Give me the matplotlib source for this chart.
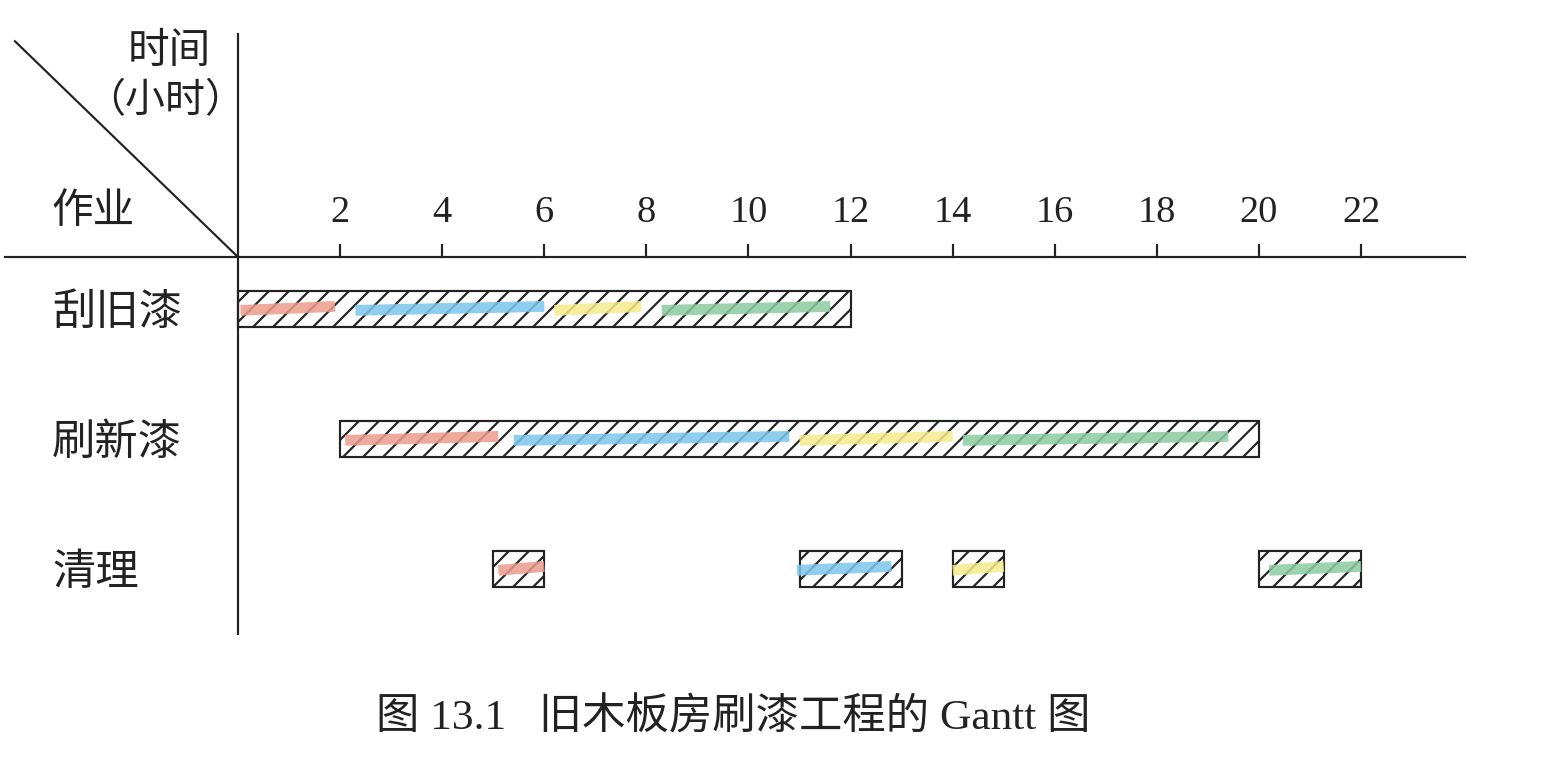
import matplotlib.pyplot as plt

plt.rcParams['font.family'] = ['Noto Sans CJK SC', 'DejaVu Sans']
plt.rcParams['hatch.linewidth'] = 1.3

# 作业与时间 (小时)
tasks = ['刮旧漆', '刷新漆', '清理']
bars_start = [[0], [2], [5, 11, 14, 20]]
bars_end = [[12], [20], [6, 13, 15, 22]]

# 各房间的彩色笔迹 (起点, 终点)
stroke_colors = ['#eb9c8c', '#7cc6ec', '#f6ec8c', '#8ccaa0']
strokes_start = [[0.05, 2.3, 6.2, 8.3], [2.1, 5.4, 11.0, 14.2], [5.1, 10.95, 14.0, 20.2]]
strokes_end = [[1.9, 6.0, 7.9, 11.6], [5.1, 10.8, 14.0, 19.4], [6.0, 12.8, 15.0, 22.0]]

ticks = [2, 4, 6, 8, 10, 12, 14, 16, 18, 20, 22]

fig = plt.figure(figsize=(12.908, 6.458), dpi=120)
ax = fig.add_axes([0, 0, 1, 1])
ax.set_xlim(-4.662, 25.68)
ax.set_ylim(3.577, -2.385)
ax.axis('off')

bar_h = 0.28
for i, task in enumerate(tasks):
    for s, e in zip(bars_start[i], bars_end[i]):
        ax.barh(i, e - s, left=s, height=bar_h, color='white',
                edgecolor='#222222', hatch='//', linewidth=1.3)
    for j, (s, e) in enumerate(zip(strokes_start[i], strokes_end[i])):
        ax.plot([s, e], [i + 0.01, i - 0.02], color=stroke_colors[j],
                lw=6.5, alpha=0.85, solid_capstyle='butt')
    ax.text(-3.64, i + 0.02, task, fontsize=26, va='center', ha='left', color='#222222')

# 坐标轴
ax.plot([-4.564, 24.03], [-0.4, -0.4], color='#222222', lw=1.3)
ax.plot([0, 0], [-2.115, 2.5], color='#222222', lw=1.3)
ax.plot([-4.368, 0], [-2.06, -0.4], color='#222222', lw=1.3)
for t in ticks:
    ax.plot([t, t], [-0.4, -0.49], color='#222222', lw=1.3)
    ax.text(t, -0.75, str(t), fontsize=23, ha='center', va='center',
            family='Liberation Serif', color='#222222')

ax.text(-1.34, -1.99, '时间', fontsize=25, ha='center', va='center', color='#222222')
ax.text(-1.42, -1.61, '（小时）', fontsize=24, ha='center', va='center', color='#222222')
ax.text(-2.83, -0.755, '作业', fontsize=25, ha='center', va='center', color='#222222')

ax.text(9.7, 3.14, '图 13.1   旧木板房刷漆工程的 Gantt 图', fontsize=26,
        ha='center', va='center', color='#222222',
        family=['Liberation Serif', 'Noto Sans CJK SC'])

fig.savefig('out.png', dpi=120)
